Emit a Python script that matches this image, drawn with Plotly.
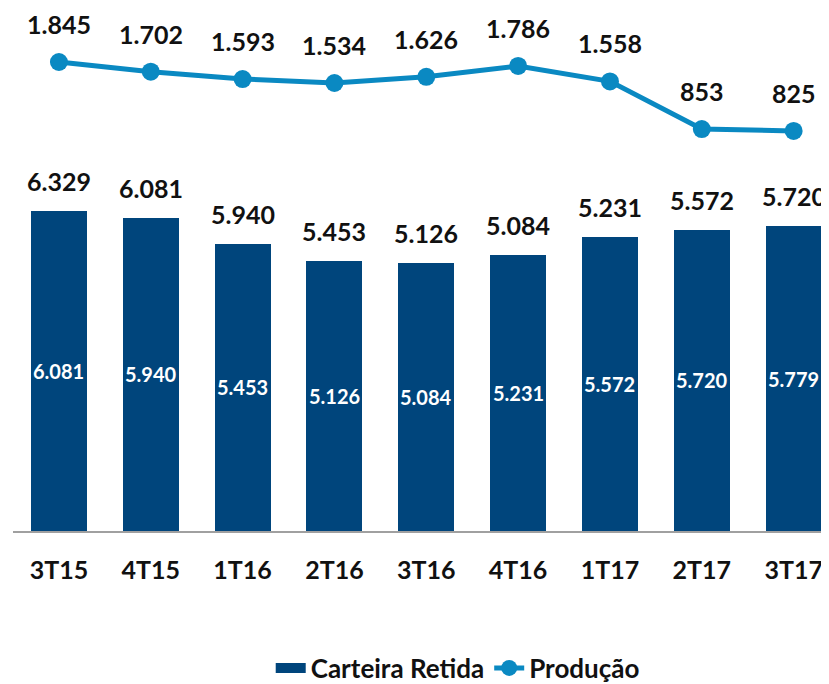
import plotly.graph_objects as go

# Data
quarters = ["3T15", "4T15", "1T16", "2T16", "3T16", "4T16", "1T17", "2T17", "3T17"]
carteira_bar = [6081, 5940, 5453, 5126, 5084, 5231, 5572, 5720, 5779]
carteira_top_labels = ["6.329", "6.081", "5.940", "5.453", "5.126", "5.084", "5.231", "5.572", "5.720"]
carteira_in_labels = ["6.081", "5.940", "5.453", "5.126", "5.084", "5.231", "5.572", "5.720", "5.779"]
producao = [1845, 1702, 1593, 1534, 1626, 1786, 1558, 853, 825]
producao_labels = ["1.845", "1.702", "1.593", "1.534", "1.626", "1.786", "1.558", "853", "825"]

BAR_COLOR = "#00457C"
LINE_COLOR = "#0A89C2"
FONT = "Lato"

fig = go.Figure()

fig.add_trace(
    go.Bar(x=quarters,
           y=carteira_bar,
           name="Carteira Retida",
           showlegend=False,
           marker=dict(color=BAR_COLOR, line=dict(width=0)),
           width=0.61))

# legend entry for the bars: a thick line gives the wide swatch
fig.add_trace(
    go.Scatter(x=[None], y=[None],
               name="Carteira Retida",
               mode="lines",
               line=dict(color=BAR_COLOR, width=17)))

fig.add_trace(
    go.Scatter(x=quarters,
               y=producao,
               name="Produção",
               yaxis="y2",
               mode="lines+markers",
               line=dict(color=LINE_COLOR, width=5),
               marker=dict(color=LINE_COLOR, size=18)))

# Labels
annotations = []
for q, v, t in zip(quarters, carteira_bar, carteira_top_labels):
    annotations.append(dict(x=q, y=v, text=t, showarrow=False, yshift=30,
                            yanchor="middle",
                            font=dict(family=FONT, size=25, color="#111111", weight="bold")))
for q, v, t in zip(quarters, carteira_bar, carteira_in_labels):
    annotations.append(dict(x=q, y=v / 2, text=t, showarrow=False,
                            yanchor="middle",
                            font=dict(family=FONT, size=20, color="white", weight="bold")))
for q, v, t in zip(quarters, producao, producao_labels):
    annotations.append(dict(x=q, y=v, yref="y2", text=t, showarrow=False,
                            yshift=38, yanchor="middle",
                            font=dict(family=FONT, size=25, color="#111111", weight="bold")))

# the page body keeps an 8px margin, so the figure is sized to fit the window
fig.update_layout(
    width=821, height=676,
    margin=dict(l=5, r=0, t=2, b=153, autoexpand=False),
    plot_bgcolor="white", paper_bgcolor="white",
    font=dict(family=FONT, color="#111111", weight="bold"),
    showlegend=True,
    legend=dict(orientation="h", x=0.545, xanchor="center", y=-0.263, yanchor="middle",
                font=dict(family=FONT, size=26, color="#111111", weight="bold"),
                itemwidth=30, traceorder="normal", tracegroupgap=0),
    xaxis=dict(range=[-0.5, 8.385], showgrid=False, showline=True,
               linecolor="#A0A0A0", linewidth=2, ticks="",
               tickfont=dict(family=FONT, size=25, color="#111111", weight="bold"),
               ticklabelstandoff=16, automargin=False),
    yaxis=dict(range=[0, 9886], visible=False),
    yaxis2=dict(range=[-5093, 2614], overlaying="y", visible=False),
    annotations=annotations,
    bargap=0,
)

fig.write_html("out.html")
